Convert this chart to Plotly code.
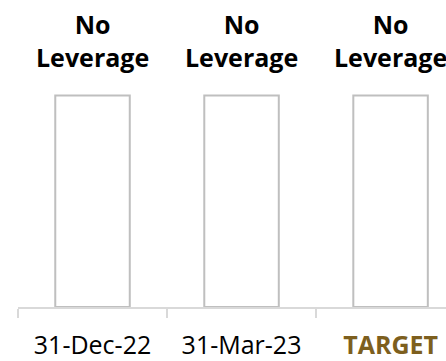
import plotly.graph_objects as go

# Reporting periods and leverage status
categories = ["31-Dec-22", "31-Mar-23", "TARGET"]
values = [1, 1, 1]
status_labels = ["No<br>Leverage", "No<br>Leverage", "No<br>Leverage"]
tick_labels = ["31-Dec-22", "31-Mar-23",
               "<b><span style='color:#7d5f1e'>TARGET</span></b>"]

fig = go.Figure(
    go.Bar(
        x=categories,
        y=values,
        width=0.5,
        marker=dict(color="white", line=dict(color="#bfbfbf", width=2)),
        hoverinfo="skip",
    )
)

for cat, val, lab in zip(categories, values, status_labels):
    fig.add_annotation(
        x=cat, y=val, xref="x", yref="y",
        text=f"<b>{lab}</b>",
        showarrow=False,
        yanchor="bottom",
        yshift=19,
        font=dict(family="Open Sans", size=25, color="#000000"),
    )

fig.update_layout(
    width=446,
    height=361,
    margin=dict(l=18, r=0, t=0, b=49),
    paper_bgcolor="white",
    plot_bgcolor="white",
    showlegend=False,
    font=dict(family="Open Sans"),
)

fig.update_xaxes(
    type="category",
    range=[-0.5, 2.372],
    tickvals=categories,
    ticktext=tick_labels,
    tickson="boundaries",
    ticks="outside",
    ticklen=9,
    tickcolor="#d9d9d9",
    tickwidth=1.5,
    showline=True,
    linecolor="#d9d9d9",
    linewidth=1.5,
    showgrid=False,
    zeroline=False,
    tickfont=dict(family="Open Sans", size=25, color="#000000"),
    ticklabelstandoff=15,
)
fig.update_yaxes(range=[0, 1.451], visible=False, showgrid=False, zeroline=False)

fig.write_html("out.html")
